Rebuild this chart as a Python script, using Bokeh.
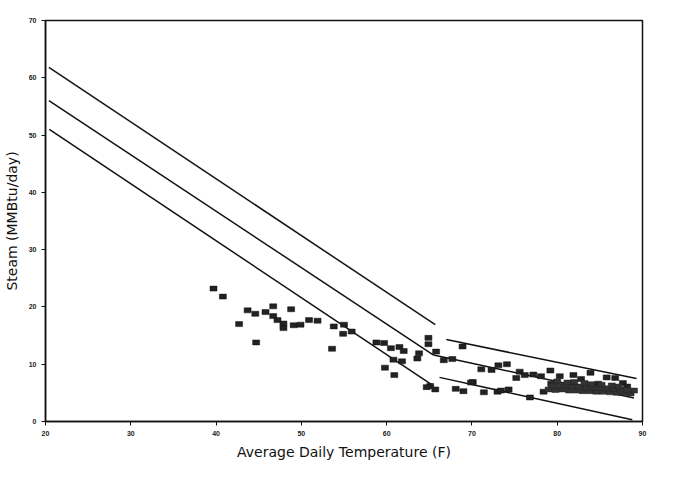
from bokeh.plotting import figure
from bokeh.models import Range1d, FixedTicker
from bokeh.embed import file_html
from bokeh.resources import INLINE

# ---- data ----
x_ticks = [20, 30, 40, 50, 60, 70, 80, 90]
y_ticks = [0, 10, 20, 30, 40, 50, 60, 70]

temp_f = [39.7, 40.8, 42.7, 43.7, 44.6, 45.8, 46.7, 46.7, 47.2, 47.9, 47.9, 48.8,
          49.1, 49.9, 50.9, 51.9, 44.7, 53.8, 53.6, 55.0, 54.9, 55.9, 58.8, 59.7,
          60.5, 61.5, 62.0, 60.8, 61.8, 59.8, 60.9, 63.8, 63.6, 64.9, 64.9, 65.1,
          65.8, 66.7, 67.7, 68.9, 64.7, 65.7, 68.1, 69.0, 70.1, 71.1, 72.3, 73.1,
          74.1, 71.4, 73.0, 74.3, 75.2, 75.6, 76.2, 77.2, 78.1, 79.2, 79.3, 80.3,
          81.9, 82.8, 83.9, 84.8, 85.8, 86.8, 87.7, 88.2, 69.9, 73.4, 76.8, 78.4]
steam_mmbtu = [23.2, 21.8, 17.0, 19.4, 18.8, 19.1, 20.1, 18.4, 17.7, 17.1, 16.3, 19.6,
               16.8, 16.9, 17.7, 17.6, 13.8, 16.6, 12.7, 16.9, 15.3, 15.7, 13.8, 13.7,
               12.8, 13.0, 12.3, 10.8, 10.5, 9.4, 8.1, 11.9, 11.0, 14.6, 13.5, 6.2,
               12.2, 10.7, 10.9, 13.1, 6.0, 5.6, 5.7, 5.3, 6.9, 9.1, 9.0, 9.8,
               10.0, 5.1, 5.2, 5.6, 7.6, 8.7, 8.1, 8.2, 7.9, 8.9, 6.6, 7.9,
               8.1, 7.4, 8.5, 6.6, 7.7, 7.6, 6.7, 6.1, 6.8, 5.4, 4.2, 5.2]

# dense cluster of hot days
band_temp = [79.0, 79.8, 80.6, 81.4, 82.2, 83.0, 83.8, 84.6, 85.4, 86.2, 87.0, 87.8, 88.6,
             79.4, 80.2, 81.0, 81.8, 82.6, 83.4, 84.2, 85.0, 85.8, 86.6, 87.4, 88.2, 89.0,
             80.0, 81.2, 82.0, 83.2, 84.0, 85.2, 86.4, 87.2]
band_steam = [5.6, 5.5, 5.6, 5.4, 5.4, 5.3, 5.3, 5.2, 5.2, 5.1, 5.0, 5.0, 4.9,
              6.3, 6.2, 6.3, 6.1, 6.1, 6.0, 5.9, 5.9, 5.8, 5.7, 5.6, 5.5, 5.4,
              7.0, 6.8, 6.9, 6.7, 6.5, 6.4, 6.3, 6.1]

# fitted lines (heating segment and cooling segment) with bands
upper_heat_x, upper_heat_y = [20.4, 65.7], [61.8, 16.9]
mid_heat_x, mid_heat_y = [20.4, 65.5], [56.0, 11.6]
lower_heat_x, lower_heat_y = [20.45, 65.5], [51.0, 6.2]
upper_cool_x, upper_cool_y = [67.0, 89.3], [14.3, 7.5]
mid_cool_x, mid_cool_y = [65.5, 89.0], [11.6, 4.1]
lower_cool_x, lower_cool_y = [66.2, 88.8], [7.7, 0.3]

# ---- figure ----
p = figure(width=652, height=462, x_range=Range1d(20, 90), y_range=Range1d(0, 70),
           output_backend="svg", toolbar_location=None,
           min_border_left=45, min_border_top=20, min_border_right=10, min_border_bottom=38,
           background_fill_color="white", border_fill_color="white")
p.grid.visible = False
p.outline_line_color = "#111111"
p.outline_line_width = 1.5

for ax in (p.xaxis, p.yaxis):
    ax.minor_tick_line_color = None
    ax.major_tick_in = 0
    ax.major_tick_out = 4
    ax.axis_line_width = 1.5
    ax.axis_line_color = "#111111"
    ax.major_tick_line_color = "#111111"
    ax.major_label_text_font_size = "7px"
    ax.major_label_text_font_style = "bold"
    ax.major_label_text_color = "#222222"
    ax.axis_label_text_font = "DejaVu Sans"
    ax.axis_label_text_font_size = "14px"
    ax.axis_label_text_font_style = "normal"
    ax.axis_label_text_color = "#111111"

p.xaxis.ticker = FixedTicker(ticks=x_ticks)
p.yaxis.ticker = FixedTicker(ticks=y_ticks)
p.xaxis.axis_label = "Average Daily Temperature (F)"
p.yaxis.axis_label = "Steam (MMBtu/day)"
p.xaxis.axis_label_standoff = 5
p.yaxis.axis_label_standoff = 6

for xs, ys in [(upper_heat_x, upper_heat_y), (mid_heat_x, mid_heat_y),
               (lower_heat_x, lower_heat_y), (upper_cool_x, upper_cool_y),
               (mid_cool_x, mid_cool_y), (lower_cool_x, lower_cool_y)]:
    p.line(xs, ys, line_color="#111111", line_width=1.5)

p.rect(temp_f, steam_mmbtu, width=7, height=5, width_units="screen", height_units="screen",
       fill_color="#222222", line_color="#111111", line_width=0.5)
p.rect(band_temp, band_steam, width=7, height=5, width_units="screen", height_units="screen",
       fill_color="#333333", line_color="#222222", line_width=0.5)

open("out.html", "w").write(file_html(p, INLINE))
